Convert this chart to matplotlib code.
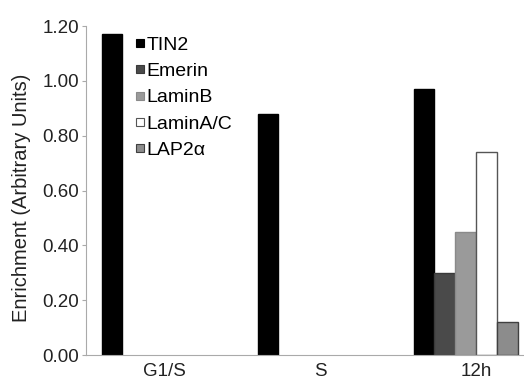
import numpy as np
import matplotlib
matplotlib.use('Agg')
import matplotlib.pyplot as plt
from matplotlib.lines import Line2D

# data
phases = ['G1/S', 'S', '12h']
tin2 = [1.17, 0.88, 0.97]
emerin = [0.0, 0.0, 0.30]
laminB = [0.0, 0.0, 0.45]
laminAC = [0.0, 0.0, 0.74]
lap2a = [0.0, 0.0, 0.12]
yticks = [0.0, 0.2, 0.4, 0.6, 0.8, 1.0, 1.2]

series = [('TIN2', tin2, '#000000', '#000000'),
          ('Emerin', emerin, '#4a4a4a', '#3a3a3a'),
          ('LaminB', laminB, '#9a9a9a', '#8a8a8a'),
          ('LaminA/C', laminAC, '#ffffff', '#555555'),
          ('LAP2\u03b1', lap2a, '#8c8c8c', '#404040')]

plt.rcParams['font.family'] = ['Liberation Sans', 'DejaVu Sans']

fig = plt.figure(figsize=(5.24, 3.83), dpi=100)
ax = fig.add_axes([0.164, 0.073, 0.836, 0.859])

x = np.arange(len(phases))
nslots = 6  # excel layout: six slots per group, gap 150%
w = 1.0 / (nslots + 1.5)
handles = []
for k, (name, vals, fc, ec) in enumerate(series):
    vals = np.array(vals)
    pos = x + (k - (nslots - 1) / 2.0) * w
    m = vals > 0
    ax.bar(pos[m], vals[m], width=w, color=fc, edgecolor=ec, linewidth=1.0)
    # small square legend keys like excel
    handles.append(Line2D([], [], marker='s', linestyle='none', markersize=5.5,
                          markerfacecolor=fc, markeredgecolor=ec, markeredgewidth=0.8, label=name))

ax.set_xlim(-0.5, -0.5 + 438 / 156.0)
ax.set_ylim(0, 1.2)
ax.set_yticks(yticks)
ax.set_yticklabels(['%.2f' % v for v in yticks], fontsize=13.5, color='#222222')
ax.set_xticks(x)
ax.set_xticklabels(phases, fontsize=13.5, color='#222222')
ax.tick_params(axis='x', length=0, pad=6)
ax.tick_params(axis='y', length=3, color='#aaaaaa', pad=2)
for s in ['top', 'right']:
    ax.spines[s].set_visible(False)
for s in ['left', 'bottom']:
    ax.spines[s].set_color('#aaaaaa')
fig.text(22 / 524.0, 1 - 198 / 383.0, 'Enrichment (Arbitrary Units)', rotation=90,
         ha='center', va='center', fontsize=14.5, color='#222222')

ax.legend(handles=handles, loc='upper left', bbox_to_anchor=(0.2615, 0.906),
          bbox_transform=fig.transFigure, frameon=False, fontsize=14,
          handlelength=0.35, handletextpad=0.15, labelspacing=0.45,
          borderpad=0, borderaxespad=0)

fig.savefig('out.png', dpi=100)
